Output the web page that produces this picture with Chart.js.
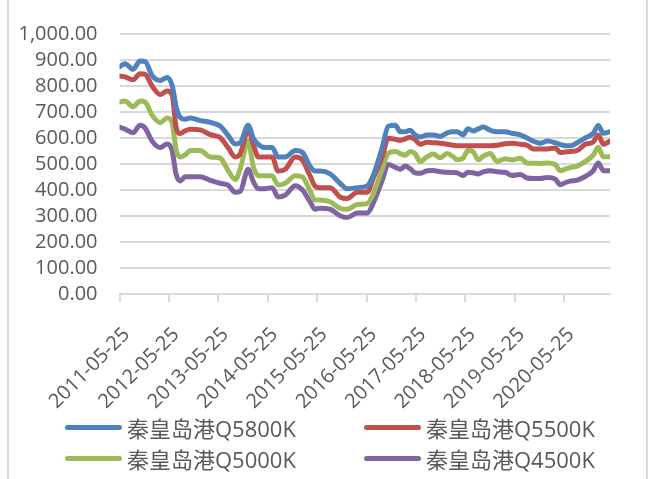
<!DOCTYPE html>
<html>
<head>
<meta charset="utf-8">
<script src="https://cdn.jsdelivr.net/npm/chart.js@4/dist/chart.umd.min.js"></script>
<style>
  html, body { margin: 0; padding: 0; background: #fff; }
  #wrap { position: relative; width: 657px; height: 479px; overflow: hidden; }
  #frame { position: absolute; left: 7px; top: -2px; width: 637px; height: 483px;
           border-left: 2px solid #d9d9d9; border-right: 2px solid #d9d9d9; box-sizing: content-box; }
  canvas { position: absolute; left: 0; top: 0; }
  #legend { position: absolute; left: 0; top: 411px; width: 657px; font-family: "Open Sans", "Noto Sans CJK SC", sans-serif;
            font-size: 22px; color: #595959; }
  .item { position: absolute; display: flex; align-items: center; height: 32px; white-space: nowrap; }
  .swatch { display: inline-block; width: 57px; height: 5px; border-radius: 3px; margin-right: 5px; }
</style>
</head>
<body>
<div id="wrap">
  <div id="frame"></div>
  <canvas id="c" width="657" height="479"></canvas>
  <div id="legend"></div>
</div>
<script>
// Sample dates (irregular spacing, dense where prices move)
const dates = [
  '2011-05-25','2011-07-05','2011-09-02','2011-10-24','2011-12-01','2012-01-21','2012-03-21','2012-05-11',
  '2012-06-17','2012-07-17','2012-08-15','2012-09-22','2012-10-29','2013-01-11','2013-03-27','2013-06-07',
  '2013-08-05','2013-09-27','2013-11-02','2014-01-01','2014-02-07','2014-03-17','2014-05-06','2014-06-27',
  '2014-08-10','2014-10-02','2014-12-15','2015-02-05','2015-04-03','2015-05-10','2015-06-16','2015-08-30',
  '2015-11-11','2016-01-03','2016-03-18','2016-05-30','2016-07-13','2016-09-18','2016-11-02','2016-12-24',
  '2017-01-30','2017-03-08','2017-04-12','2017-05-19','2017-06-26','2017-08-16','2017-09-30','2017-11-21',
  '2018-01-12','2018-02-26','2018-03-26','2018-05-09','2018-06-15','2018-07-22','2018-08-29','2018-10-05',
  '2018-11-26','2019-01-16','2019-03-17','2019-05-06','2019-07-05','2019-08-26','2019-10-10','2019-12-01',
  '2020-01-21','2020-03-21','2020-04-27','2020-06-02','2020-07-09','2020-08-30','2020-10-29','2020-12-27',
  '2021-02-02','2021-03-12','2021-04-30'
];

const q5800 = [
  874,886,864,896,894,840,821,833, 803,720,680,672,677,667,660,646,
  610,577,581,649,599,575,563,563, 527,527,552,545,491,473,473,462,
  426,405,409,416,455,563,645,649,
  624,624,630,612,604,612,612,606, 620,624,624,612,636,627,635,642,
  630,624,624,618,612,600,588,580, 588,582,575,570,570,582,600,618,
  648,618,624
];
const q5500 = [
  839,835,824,847,845,800,767,781, 767,640,617,628,634,631,613,602,
  563,527,538,631,577,527,527,527, 473,480,527,516,455,415,409,409,
  373,367,391,391,444,527,599,595,
  591,597,603,594,576,584,582,580, 576,572,570,570,570,570,570,570,
  570,572,578,580,576,572,558,558, 558,562,544,546,548,552,576,585,
  612,576,588
];
const q5000 = [
  738,742,720,742,738,688,659,677, 659,555,527,535,552,552,527,523,
  475,440,480,588,491,455,455,455, 419,426,455,451,397,362,362,355,
  330,326,344,348,384,480,541,548,
  540,534,548,540,510,528,538,524, 540,528,516,522,552,548,516,530,
  540,510,520,516,522,504,503,502, 504,498,474,480,486,492,510,534,
  564,528,528
];
const q4500 = [
  642,634,620,649,638,588,563,577, 552,460,435,451,451,451,437,426,
  419,391,394,480,433,405,405,409, 373,380,416,401,355,326,330,326,
  301,294,312,312,348,437,498,487,
  480,492,482,466,464,474,475,470, 468,467,466,456,468,466,462,470,
  474,470,468,456,460,446,444,444, 448,442,420,428,434,438,452,474,
  504,474,474
];

const seriesNames = ['秦皇岛港Q5800K', '秦皇岛港Q5500K', '秦皇岛港Q5000K', '秦皇岛港Q4500K'];
const seriesColors = ['#4f81bd', '#c0504d', '#9bbb59', '#8064a2'];
const tickDates = ['2011-05-25','2012-05-25','2013-05-25','2014-05-25','2015-05-25',
                   '2016-05-25','2017-05-25','2018-05-25','2019-05-25','2020-05-25'];
const axisStart = '2011-05-25';
const axisEnd = '2021-04-30';

const DAY = 86400000;
const dayNum = s => Date.parse(s + 'T00:00:00Z') / DAY;
const dayStr = n => new Date(Math.round(n) * DAY).toISOString().slice(0, 10);

const seriesValues = [q5800, q5500, q5000, q4500];
const datasets = seriesValues.map((vals, k) => ({
  label: seriesNames[k],
  data: dates.map((d, i) => ({ x: dayNum(d), y: vals[i] })),
  borderColor: seriesColors[k],
  backgroundColor: seriesColors[k],
  borderWidth: 5,
  pointRadius: 0,
  cubicInterpolationMode: 'monotone',
  borderCapStyle: 'round',
  borderJoinStyle: 'round',
  fill: false
}));

const tickFont = { family: '"Open Sans", sans-serif', size: 20 };

new Chart(document.getElementById('c'), {
  type: 'line',
  data: { datasets },
  options: {
    responsive: false,
    animation: false,
    devicePixelRatio: 1,
    layout: { padding: { left: 0, right: 47, top: 15, bottom: 55 } },
    plugins: { legend: { display: false }, tooltip: { enabled: false } },
    scales: {
      x: {
        type: 'linear',
        min: dayNum(axisStart),
        max: dayNum(axisEnd),
        afterBuildTicks: scale => { scale.ticks = tickDates.map(d => ({ value: dayNum(d) })); },
        afterFit: scale => { scale.height = 130; },
        ticks: {
          autoSkip: false, minRotation: 45, maxRotation: 45, padding: 21, labelOffset: 7,
          color: '#595959', font: tickFont,
          callback: v => dayStr(v)
        },
        grid: { drawOnChartArea: false, drawTicks: true, tickLength: 8, color: '#d9d9d9', lineWidth: 2 },
        border: { display: true, color: '#d9d9d9', width: 2 }
      },
      y: {
        min: 0, max: 1000,
        afterFit: scale => { scale.width = 119.5; },
        ticks: {
          autoSkip: false, stepSize: 100, padding: 22, color: '#595959', font: tickFont,
          callback: v => v.toLocaleString('en-US', { minimumFractionDigits: 2, maximumFractionDigits: 2 })
        },
        grid: { drawTicks: false, color: '#d9d9d9', lineWidth: 2 },
        border: { display: false }
      }
    }
  }
});

// Two-column legend under the plot
const legend = document.getElementById('legend');
const legendPos = [[65, 0], [364, 0], [65, 31], [364, 31]];
seriesNames.forEach((name, k) => {
  const item = document.createElement('div');
  item.className = 'item';
  item.style.left = legendPos[k][0] + 'px';
  item.style.top = legendPos[k][1] + 'px';
  const sw = document.createElement('span');
  sw.className = 'swatch';
  sw.style.background = seriesColors[k];
  const tx = document.createElement('span');
  tx.textContent = name;
  item.appendChild(sw);
  item.appendChild(tx);
  legend.appendChild(item);
});
</script>
</body>
</html>
